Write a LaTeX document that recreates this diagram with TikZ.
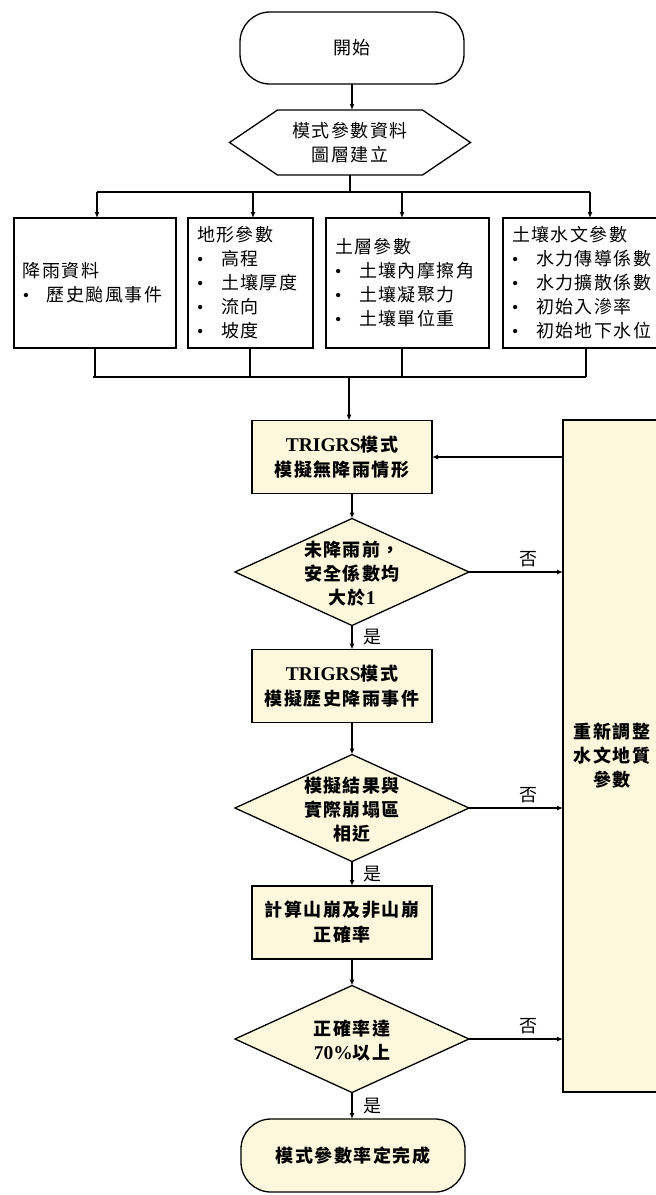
\documentclass[tikz,border=0pt]{standalone}
\usepackage{fontspec}
\usetikzlibrary{arrows.meta,shapes.geometric}
\newfontfamily\cjk[LetterSpace=8]{Noto Sans CJK TC}
\newfontfamily\latf{Liberation Serif}
\definecolor{cream}{RGB}{253,248,221}
\newcommand\myfs{\fontsize{18}{24}\selectfont}
\newcommand\myfsb{\fontsize{18}{25}\selectfont}
\newcommand\lat{\latf\fontsize{19.5}{25}\selectfont}
\newcommand\blt{\makebox[24pt][l]{\latf •}}
\begin{document}
\begin{tikzpicture}[x=1pt,y=-1pt,line width=1.3pt,
  box/.style={draw,line width=1.3pt,inner sep=0pt,outer sep=0pt},
  term/.style={box,rounded corners=30pt,minimum width=224pt,minimum height=72pt,align=center},
  parbox/.style={box,minimum height=130pt,align=left,font=\cjk\myfs,inner xsep=9pt},
  ybox/.style={box,fill=cream,minimum width=180pt,minimum height=73pt,align=center,font=\cjk\bfseries\myfsb},
  dia/.style={box,diamond,fill=cream,minimum width=234pt,minimum height=107pt},
  dtext/.style={align=center,font=\cjk\bfseries\myfs,inner sep=0pt},
  arr/.style={-{Latex[length=6pt,width=5pt]}},
  lab/.style={font=\cjk\myfs,inner sep=1pt}]
\fill[white] (0,0) rectangle (656,1195);
\clip (0,0) rectangle (656,1195);

% start and hexagon
\node[term,fill=white,font=\cjk\myfs] (start) at (352,48) {開始};
\node[inner sep=0pt,outer sep=0pt,minimum width=241pt,minimum height=65pt,align=center,font=\cjk\myfs] (hex) at (350,142.5) {模式參數資料\\圖層建立};
\draw ([xshift=48pt]hex.north west) -- ([xshift=-48pt]hex.north east) -- (hex.east) -- ([xshift=-48pt]hex.south east) -- ([xshift=48pt]hex.south west) -- (hex.west) -- cycle;

% parameter boxes
\node[parbox,minimum width=162pt,text width=144pt] (b1) at (95,283) {降雨資料\\\blt 歷史颱風事件};
\node[parbox,minimum width=125pt,text width=107pt] (b2) at (250.5,283) {地形參數\\\blt 高程\\\blt 土壤厚度\\\blt 流向\\\blt 坡度};
\node[parbox,minimum width=163pt,text width=145pt] (b3) at (407.5,283) {土層參數\\\blt 土壤內摩擦角\\\blt 土壤凝聚力\\\blt 土壤單位重};
\node[parbox,minimum width=197pt,text width=179pt] (b4) at (601.5,283) {土壤水文參數\\\blt 水力傳導係數\\\blt 水力擴散係數\\\blt 初始入滲率\\\blt 初始地下水位};

% distribution
\coordinate (split) at (350,192);
\coordinate (s1) at (97,192);
\coordinate (s2) at (253,192);
\coordinate (s3) at (402,192);
\coordinate (s4) at (590,192);
\draw[arr] (start.south) -- (start.south |- hex.north);
\draw (hex.south) -- (split);
\draw (s1) -- (s4);
\draw[arr] (s1) -- (s1 |- b1.north);
\draw[arr] (s2) -- (s2 |- b2.north);
\draw[arr] (s3) -- (s3 |- b3.north);
\draw[arr] (s4) -- (s4 |- b4.north);

% merge
\coordinate (m1) at (95,377);
\coordinate (m2) at (250,377);
\coordinate (m3) at (402,377);
\coordinate (m4) at (586,377);
\coordinate (join) at (349,377);
\draw (b1.south -| m1) -- (m1);
\draw (b2.south -| m2) -- (m2);
\draw (b3.south -| m3) -- (m3);
\draw (b4.south -| m4) -- (m4);
\draw ([xshift=-2pt]m1) -- (m4);

% main column
\node[ybox] (tr1) at (342,457) {{\lat TRIGRS}模式\\模擬無降雨情形};
\node[dia] (d1) at (352,572) {};
\node[dtext] (t1) at (352,574) {未降雨前，\\安全係數均\\大於{\lat 1}};
\node[ybox] (tr2) at (342,686) {{\lat TRIGRS}模式\\模擬歷史降雨事件};
\node[dia] (d2) at (352,808) {};
\node[dtext] (t2) at (352,810) {模擬結果與\\實際崩塌區\\相近};
\node[ybox] (tr3) at (342,922.5) {計算山崩及非山崩\\正確率};
\node[dia] (d3) at (352,1039) {};
\node[dtext] (t3) at (352,1041) {正確率達\\{\lat 70\%}以上};
\node[term,fill=cream,minimum height=73pt,font=\cjk\bfseries\myfs] (end) at (353,1155.5) {模式參數率定完成};
\node[box,fill=cream,minimum width=98pt,minimum height=672pt,align=center,font=\cjk\bfseries\myfs] (rb) at (612,756) {重新調整\\水文地質\\參數};

\draw[arr] (join) -- (join |- tr1.north);
\draw[arr] (tr1.south -| d1.north) -- (d1.north);
\draw[arr] (d1.south) -- (d1.south |- tr2.north) node[lab,midway,right=10pt] {是};
\draw[arr] (d1.east) -- (d1.east -| rb.west) node[lab,pos=0.63,above=3pt] {否};
\draw[arr] (rb.west |- tr1.east) -- (tr1.east);
\draw[arr] (tr2.south -| d2.north) -- (d2.north);
\draw[arr] (d2.south) -- (d2.south |- tr3.north) node[lab,midway,right=10pt] {是};
\draw[arr] (d2.east) -- (d2.east -| rb.west) node[lab,pos=0.63,above=3pt] {否};
\draw[arr] (tr3.south -| d3.north) -- (d3.north);
\draw[arr] (d3.east) -- (d3.east -| rb.west) node[lab,pos=0.63,above=3pt] {否};
\draw[arr] (d3.south) -- (d3.south |- end.north) node[lab,midway,right=10pt] {是};
\end{tikzpicture}
\end{document}
